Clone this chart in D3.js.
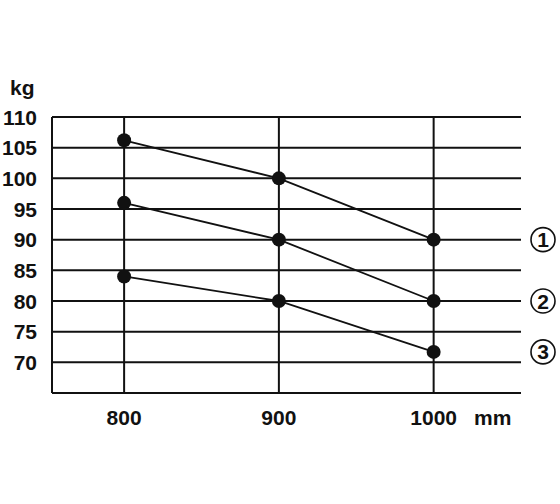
<!DOCTYPE html>
<html><head><meta charset="utf-8">
<script src="https://cdn.jsdelivr.net/npm/d3@7"></script>
<style>body{margin:0;background:#fff}text{font-family:"Liberation Sans",Arial,sans-serif;font-weight:bold;fill:#111}</style>
</head><body><svg id="c" width="560" height="504"></svg>
<script>
const lengths = [800, 900, 1000];
const series1 = [106.2, 100, 90];
const series2 = [96, 90, 80];
const series3 = [84, 80, 71.7];
const seriesLabels = ["1", "2", "3"];
const yTicks = [70, 75, 80, 85, 90, 95, 100, 105, 110];
const allSeries = [series1, series2, series3];

const svg = d3.select("#c");
const x = d3.scaleLinear().domain([753.4, 1055.8]).range([52, 520]);
const y = d3.scaleLinear().domain([65, 110]).range([393, 117]);

// horizontal gridlines (include bottom 65 line)
const hLines = [65].concat(yTicks);
svg.selectAll(".h").data(hLines).join("line")
  .attr("x1", 52).attr("x2", 521).attr("y1", d => y(d)).attr("y2", d => y(d))
  .attr("stroke", "#111").attr("stroke-width", 2);
svg.append("line").attr("x1", 52).attr("x2", 52).attr("y1", y(110)).attr("y2", y(65))
  .attr("stroke", "#111").attr("stroke-width", 2);
svg.selectAll(".v").data(lengths).join("line")
  .attr("x1", d => x(d)).attr("x2", d => x(d)).attr("y1", y(110)).attr("y2", y(65))
  .attr("stroke", "#111").attr("stroke-width", 2);

svg.selectAll(".yt").data(yTicks).join("text")
  .attr("x", 37).attr("y", d => y(d) + 7.5).attr("text-anchor", "end")
  .attr("font-size", 21).text(d => d);
svg.append("text").attr("x", 10).attr("y", 95).attr("font-size", 21).text("kg");

svg.selectAll(".xt").data(lengths).join("text")
  .attr("x", d => x(d)).attr("y", 425).attr("text-anchor", "middle")
  .attr("font-size", 21).text(d => d);
svg.append("text").attr("x", 474).attr("y", 425).attr("font-size", 21).text("mm");

const line = d3.line().x((d, i) => x(lengths[i])).y(d => y(d));
allSeries.forEach((s, k) => {
  svg.append("path").attr("d", line(s)).attr("fill", "none")
    .attr("stroke", "#111").attr("stroke-width", 1.8);
  svg.selectAll(".p" + k).data(s).join("circle")
    .attr("cx", (d, i) => x(lengths[i])).attr("cy", d => y(d)).attr("r", 7).attr("fill", "#111");
  const ly = k === 2 ? y(s[2]) : y(s[2]);
  svg.append("circle").attr("cx", 543).attr("cy", ly).attr("r", 12)
    .attr("fill", "none").attr("stroke", "#111").attr("stroke-width", 1.6);
  svg.append("text").attr("x", 543).attr("y", ly + 7.5)
    .attr("text-anchor", "middle").attr("font-size", 21).text(seriesLabels[k]);
});
</script></body></html>
